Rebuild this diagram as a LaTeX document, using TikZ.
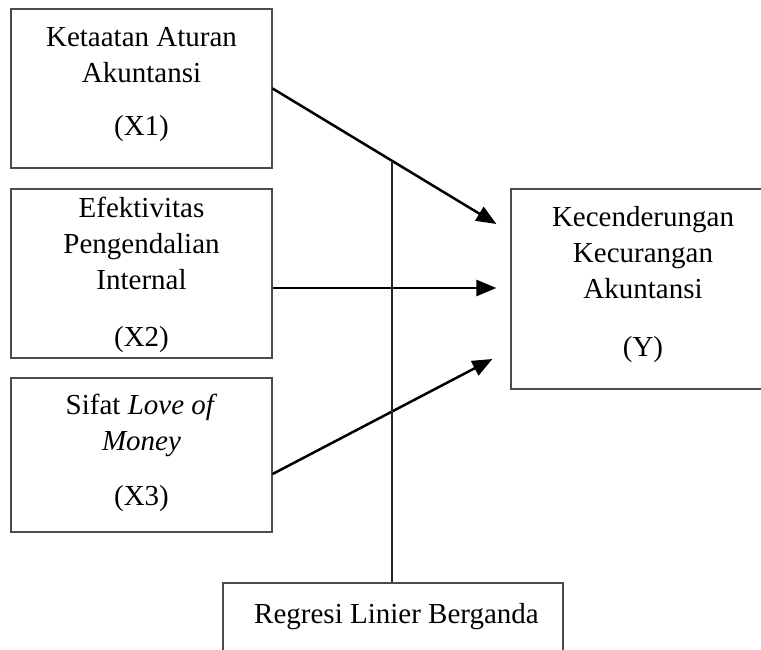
\documentclass[tikz,border=0pt]{standalone}
\usepackage{fontspec}
\setmainfont{Liberation Serif}
\usetikzlibrary{arrows.meta}

\begin{document}
\begin{tikzpicture}[x=1pt,y=-1pt,
    box/.style={draw=black!70,line width=1.2pt,inner sep=0pt},
    txt/.style={align=center,inner sep=0pt,anchor=north,
      font=\fontsize{29}{36}\selectfont},
    arr/.style={line width=2.5pt,-{Triangle[length=20pt,width=16pt]}},
    stem/.style={line width=1.8pt,black!85}]

  \useasboundingbox (0,0) rectangle (761,649);
  \clip (0,0) rectangle (761,649);

  % Boxes
  \node[box,minimum width=261pt,minimum height=159pt] (x1) at (141.5,88.5) {};
  \node[box,minimum width=261pt,minimum height=169pt] (x2) at (141.5,273.5) {};
  \node[box,minimum width=261pt,minimum height=154pt] (x3) at (141.5,455) {};
  \node[box,minimum width=264pt,minimum height=200pt] (y) at (643,289) {};
  \node[box,minimum width=340pt,minimum height=120pt] (reg) at (393,643) {};

  % Texts
  \node[txt] (x1txt) at (141.5,27) {Ketaatan Aturan\\Akuntansi\\[17pt](X1)};
  \node[txt] (x2txt) at (141.5,197) {Efektivitas\\Pengendalian\\Internal\\[21pt](X2)};
  \node[txt] (x3txt) at (141.5,394) {Sifat \textit{Love of}\\\textit{Money}\\[19pt](X3)};
  \node[txt] (ytxt) at (643,206) {Kecenderungan\\Kecurangan\\Akuntansi\\[22pt](Y)};
  \node[txt] (regtxt) at (396.5,603) {Regresi Linier Berganda};

  % Arrow ends
  \coordinate (tip1) at ([xshift=-14pt,yshift=65pt]y.west);
  \coordinate (tip2) at ([xshift=-14pt,yshift=1pt]y.west);
  \coordinate (tip3) at ([xshift=-18pt,yshift=-70pt]y.west);

  % Arrows
  \draw[arr] (x1.east) -- coordinate[pos=0.533] (cross) (tip1);
  \draw[arr] ([yshift=-14.5pt]x2.east) -- (tip2);
  \draw[arr] ([yshift=-19pt]x3.east) -- (tip3);

  % Line to regression
  \draw[stem] (cross) -- (cross |- reg.north);
\end{tikzpicture}
\end{document}
